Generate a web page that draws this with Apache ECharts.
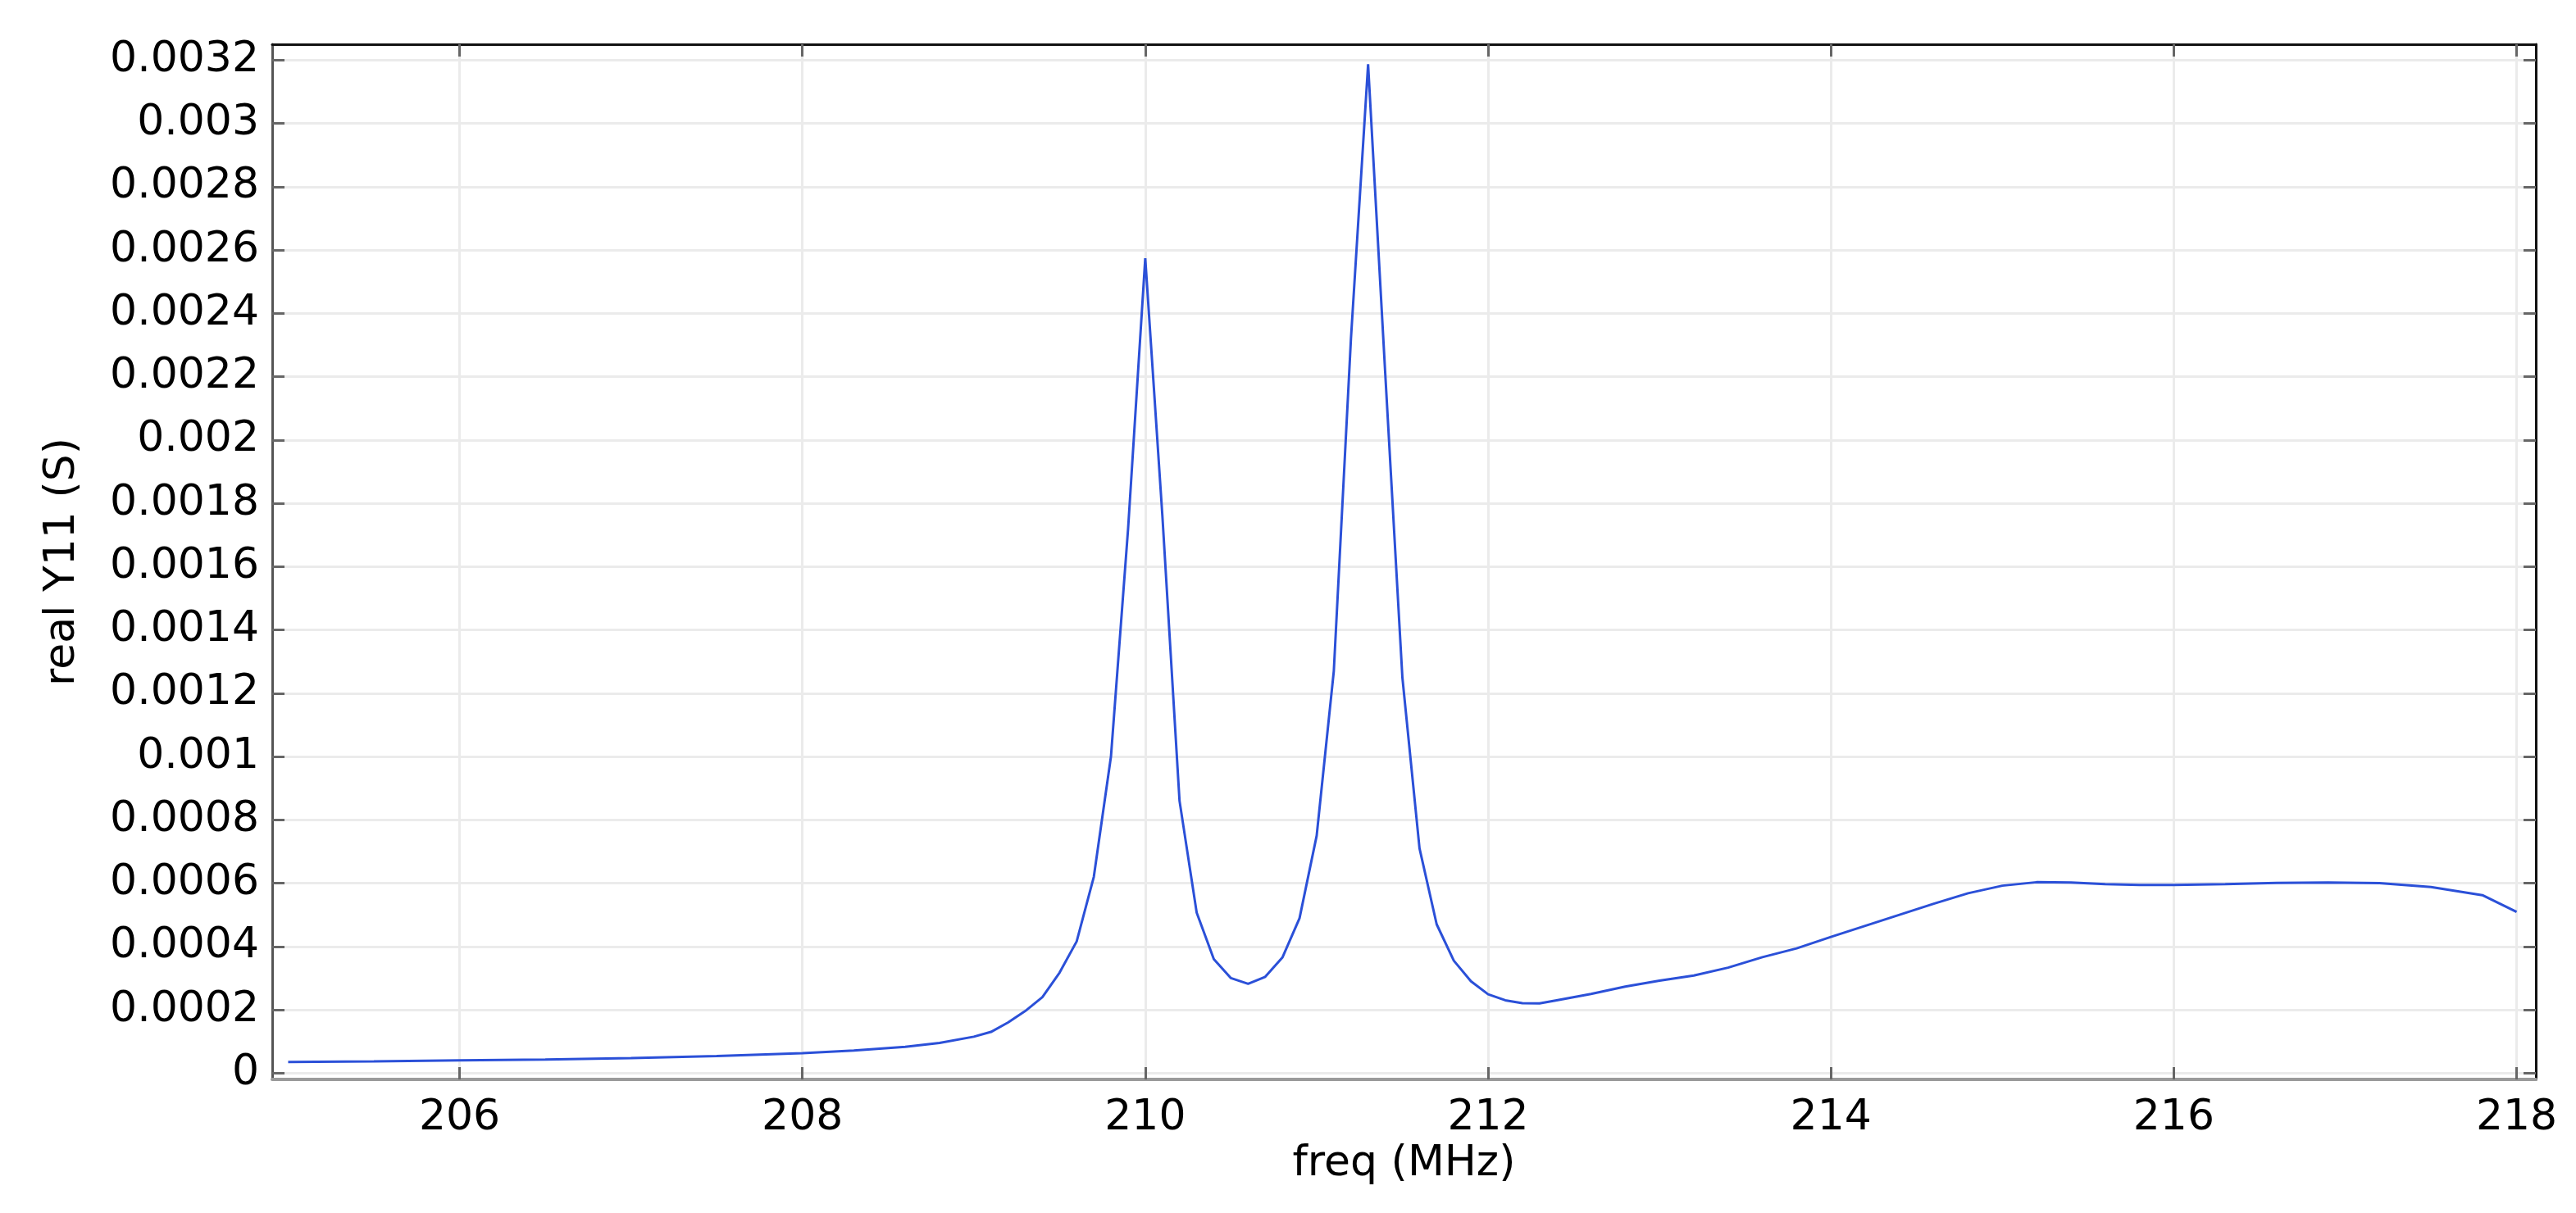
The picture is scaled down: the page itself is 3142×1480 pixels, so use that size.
<!DOCTYPE html>
<html>
<head>
<meta charset="utf-8">
<script src="https://cdn.jsdelivr.net/npm/echarts@6/dist/echarts.min.js"></script>
<style>
html,body{margin:0;padding:0;background:#fff;}
#chart{width:3142px;height:1480px;}
</style>
</head>
<body>
<div id="chart"></div>
<script>
// ---- data ----
const freqMHz = [205, 205.5, 206, 206.5, 207, 207.5, 208, 208.3, 208.6, 208.8, 209.0, 209.1, 209.2, 209.3, 209.4, 209.5, 209.6, 209.7, 209.8, 209.9,
  210.0, 210.1, 210.2, 210.3, 210.4, 210.5, 210.6, 210.7, 210.8, 210.9, 211.0, 211.1, 211.2, 211.3, 211.4, 211.5, 211.6, 211.7, 211.8, 211.9,
  212.0, 212.1, 212.2, 212.3, 212.4, 212.6, 212.8, 213.0, 213.2, 213.4, 213.6, 213.8, 214.0, 214.2, 214.4, 214.6, 214.8, 215.0, 215.2, 215.4,
  215.6, 215.8, 216.0, 216.3, 216.6, 216.9, 217.2, 217.5, 217.8, 218.0];
const realY11 = [0.000035, 0.000037, 0.00004, 0.000043, 0.000047, 0.000054, 0.000063, 0.000071, 0.000083, 0.000095, 0.000115, 0.00013, 0.00016, 0.000196, 0.00024, 0.000317, 0.000416, 0.00062, 0.001, 0.00172,
  0.002574, 0.00176, 0.00086, 0.000507, 0.00036, 0.0003, 0.000282, 0.000304, 0.000365, 0.000489, 0.00075, 0.00127, 0.00232, 0.003187, 0.00221, 0.00125, 0.00071, 0.00047, 0.000355, 0.00029,
  0.000249, 0.00023, 0.000221, 0.00022, 0.00023, 0.00025, 0.000273, 0.000292, 0.000308, 0.000333, 0.000366, 0.000394, 0.00043, 0.000465, 0.0005, 0.000535, 0.000568, 0.000592, 0.000603, 0.000602,
  0.000597, 0.000594, 0.000594, 0.000597, 0.000601, 0.000602, 0.0006, 0.000588, 0.000562, 0.000509];
const xTickLabels = ['206', '208', '210', '212', '214', '216', '218'];
const yTickLabels = ['0', '0.0002', '0.0004', '0.0006', '0.0008', '0.001', '0.0012', '0.0014', '0.0016', '0.0018', '0.002',
  '0.0022', '0.0024', '0.0026', '0.0028', '0.003', '0.0032'];
const xTitle = 'freq (MHz)';
const yTitle = 'real Y11 (S)';

const xTickValues = xTickLabels.map(Number);
const yTickValues = yTickLabels.map(Number);
function nearestLabel(labels, values, v) {
  let best = 0, bd = Infinity;
  values.forEach((t, i) => { const d = Math.abs(t - v); if (d < bd) { bd = d; best = i; } });
  return labels[best];
}

const FONT = 'DejaVu Sans';
const FS = 52;
const tickStyle = { color: '#666', width: 3 };
const gridLine = { show: true, lineStyle: { color: '#ebebeb', width: 3 } };

const chart = echarts.init(document.getElementById('chart'), null, { renderer: 'canvas' });
chart.setOption({
  animation: false,
  backgroundColor: '#ffffff',
  grid: { left: 332, right: 49, top: 54, bottom: 163, containLabel: false },
  xAxis: [
    {
      type: 'value', min: 204.907, max: 218.112, position: 'bottom',
      name: xTitle, nameLocation: 'middle', nameGap: 76,
      nameTextStyle: { fontFamily: FONT, fontSize: FS, color: '#000' },
      axisLine: { show: true, onZero: false, lineStyle: { color: '#9a9a9a', width: 4 } },
      axisTick: { show: true, inside: true, length: 15, lineStyle: tickStyle, customValues: xTickValues },
      axisLabel: { show: true, margin: 21, fontFamily: FONT, fontSize: FS, color: '#000', customValues: xTickValues,
        formatter: v => nearestLabel(xTickLabels, xTickValues, v) },
      splitLine: gridLine
    },
    {
      type: 'value', min: 204.907, max: 218.112, position: 'top',
      axisLine: { show: true, onZero: false, lineStyle: { color: '#111', width: 3 } },
      axisTick: { show: true, inside: true, length: 15, lineStyle: tickStyle, customValues: xTickValues },
      axisLabel: { show: false },
      splitLine: { show: false }
    }
  ],
  yAxis: [
    {
      type: 'value', min: -0.00002, max: 0.00325, position: 'left',
      name: yTitle, nameLocation: 'middle', nameGap: 230, nameRotate: 90,
      nameTextStyle: { fontFamily: FONT, fontSize: FS, color: '#000' },
      axisLine: { show: true, onZero: false, lineStyle: { color: '#555', width: 3 } },
      axisTick: { show: true, inside: true, length: 15, lineStyle: tickStyle, customValues: yTickValues },
      axisLabel: { show: true, margin: 16, fontFamily: FONT, fontSize: FS, color: '#000', customValues: yTickValues,
        formatter: v => nearestLabel(yTickLabels, yTickValues, v) },
      splitLine: gridLine
    },
    {
      type: 'value', min: -0.00002, max: 0.00325, position: 'right',
      axisLine: { show: true, onZero: false, lineStyle: { color: '#111', width: 3 } },
      axisTick: { show: true, inside: true, length: 15, lineStyle: tickStyle, customValues: yTickValues },
      axisLabel: { show: false },
      splitLine: { show: false }
    }
  ],
  series: [{
    type: 'line',
    xAxisIndex: 0, yAxisIndex: 0,
    data: freqMHz.map((f, i) => [f, realY11[i]]),
    showSymbol: false,
    smooth: false,
    lineStyle: { color: '#2b50d8', width: 3 },
    itemStyle: { color: '#2b50d8' },
    z: 5
  }]
});
</script>
</body>
</html>
